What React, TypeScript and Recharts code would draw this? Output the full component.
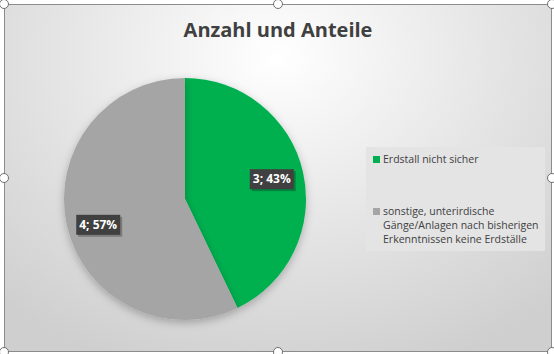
import React from 'react';
import { PieChart, Pie, Cell, Legend } from 'recharts';

const categories = [
  'Erdstall nicht sicher',
  'sonstige, unterirdische Gänge/Anlagen nach bisherigen Erkenntnissen keine Erdställe',
];
const counts = [3, 4];
const percentLabels = ['43%', '57%'];
const colors = ['#00b050', '#a5a5a5'];

const data = categories.map((name, i) => ({
  name,
  value: counts[i],
  pct: percentLabels[i],
}));

const FONT = '"Open Sans", "Noto Sans", sans-serif';
const RADIAN = Math.PI / 180;

// dark callout-style label, placed roughly like Excel's "best fit"
const renderLabel = (props: any) => {
  const { cx, cy, midAngle, value, payload } = props;
  const r = 89;
  const sin = Math.sin(-midAngle * RADIAN);
  const x = cx + r * Math.cos(-midAngle * RADIAN);
  const y = cy + r * sin + (sin > 0 ? 6 : 0);
  const w = 44;
  const h = 20;
  return (
    <g>
      <rect x={x - w / 2 + 2} y={y - h / 2 + 2} width={w} height={h} fill="#000" opacity={0.25} />
      <rect x={x - w / 2} y={y - h / 2} width={w} height={h} fill="#404040" />
      <text
        x={x}
        y={y + 1}
        fill="#fff"
        fontFamily={FONT}
        fontWeight={700}
        fontSize={12}
        textAnchor="middle"
        dominantBaseline="middle"
      >
        {`${value}; ${payload.pct}`}
      </text>
    </g>
  );
};

const LegendBox = () => (
  <div
    style={{
      width: 179,
      height: 104,
      background: '#e4e4e4',
      boxSizing: 'border-box',
      padding: '5px 0 0 7px',
      fontFamily: FONT,
      fontSize: 10.5,
      color: '#404040',
      lineHeight: '14px',
    }}
  >
    {data.map((d, i) => (
      <div key={d.name} style={{ display: 'flex', marginBottom: i === 0 ? 38 : 0 }}>
        <span
          style={{
            width: 7,
            height: 7,
            background: colors[i],
            marginTop: 4,
            marginRight: 3,
            flexShrink: 0,
          }}
        />
        <span style={{ width: i === 0 ? 'auto' : 160 }}>{d.name}</span>
      </div>
    ))}
  </div>
);

const handles = [
  [4, 4], [278, 4], [552, 4],
  [4, 178], [552, 178],
  [4, 352], [278, 352], [552, 352],
];

export default function App() {
  return (
    <div style={{ position: 'absolute', left: 0, top: 0, width: 554, height: 354, background: '#fff', overflow: 'hidden' }}>
      <div
        style={{
          position: 'absolute',
          left: 4,
          top: 4,
          width: 548,
          height: 348,
          border: '1px solid #8c8c8c',
          boxSizing: 'border-box',
          background: 'radial-gradient(ellipse 75% 95% at 50% 15%, #ffffff 0%, #e4e4e4 55%, #cfcfcf 100%)',
        }}
      >
        <div
          style={{
            position: 'absolute',
            left: 0,
            width: 546,
            top: 11,
            textAlign: 'center',
            fontFamily: FONT,
            fontWeight: 700,
            fontSize: 20,
            color: '#404040',
          }}
        >
          Anzahl und Anteile
        </div>
        <PieChart width={546} height={346} style={{ position: 'absolute', left: 0, top: 0 }}>
          <defs>
            <filter id="pieShadow" x="-20%" y="-20%" width="140%" height="140%">
              <feDropShadow dx="0" dy="3" stdDeviation="4" floodColor="#000" floodOpacity="0.25" />
            </filter>
          </defs>
          <Pie
            data={data}
            dataKey="value"
            nameKey="name"
            cx={175}
            cy={189}
            outerRadius={121}
            startAngle={90}
            endAngle={-270}
            stroke="none"
            label={renderLabel}
            labelLine={false}
            isAnimationActive={false}
            style={{ filter: 'url(#pieShadow)' }}
          >
            {data.map((d, i) => (
              <Cell key={d.name} fill={colors[i]} />
            ))}
          </Pie>
          <Legend
            content={<LegendBox />}
            wrapperStyle={{ position: 'absolute', left: 361, top: 142, width: 179 }}
          />
        </PieChart>
      </div>
      {handles.map(([x, y], i) => (
        <div
          key={i}
          style={{
            position: 'absolute',
            left: x - 5,
            top: y - 5,
            width: 10,
            height: 10,
            borderRadius: '50%',
            border: '1.5px solid #6e6e6e',
            background: '#fff',
            boxSizing: 'border-box',
          }}
        />
      ))}
    </div>
  );
}
